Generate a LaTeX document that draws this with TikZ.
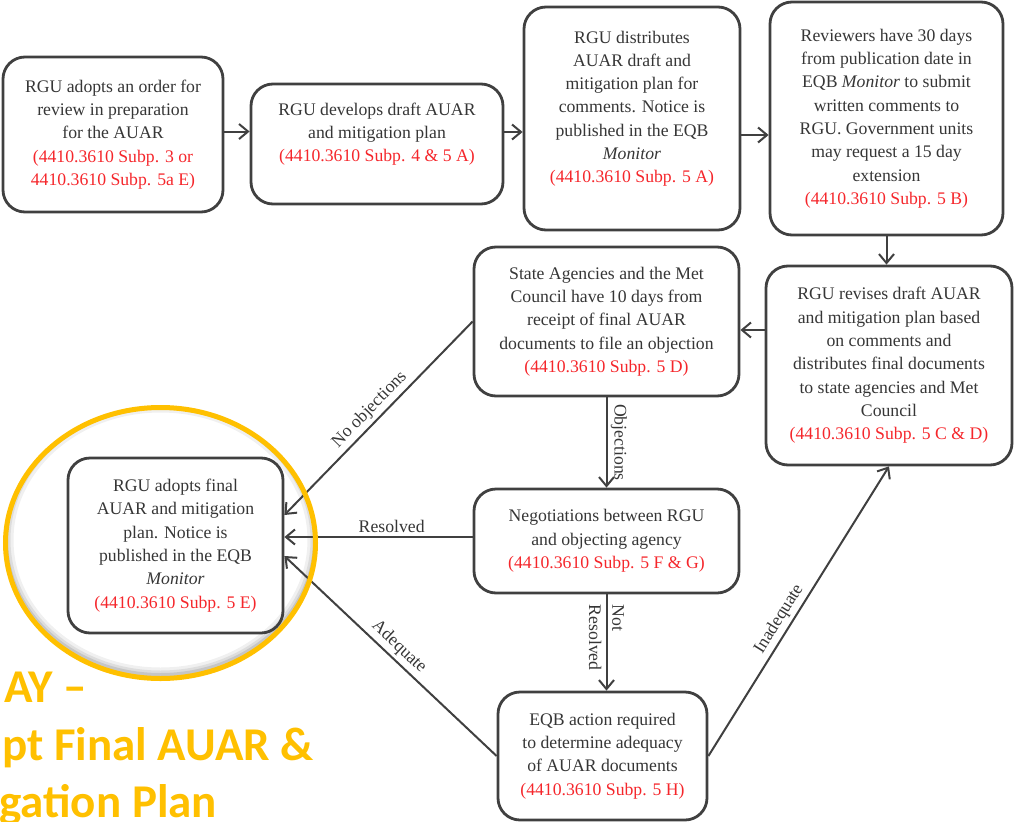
\documentclass[tikz,border=0pt]{standalone}
\usepackage{fontspec}
\setmainfont{Liberation Serif}
\newfontfamily\titlefont{Carlito}
\usetikzlibrary{arrows.meta}

\definecolor{boxgray}{HTML}{404040}
\definecolor{txtgray}{HTML}{363636}
\definecolor{citered}{HTML}{F5262B}
\definecolor{ringgold}{HTML}{FFC000}
\newcommand{\regref}[1]{{\color{citered}(4410.3610 Subp. #1)}}

\begin{document}
\begin{tikzpicture}[x=1pt,y=-1pt]
  \tikzset{box/.style = {draw=boxgray, line width=2.8pt, rounded corners=22pt, align=center, text=txtgray, font=\fontsize{17.7}{23.3}\selectfont}}
  \tikzset{edge/.style = {draw=boxgray, line width=2pt, -{Straight Barb[length=9pt,width=15pt]}}}
  \tikzset{lbl/.style = {text=txtgray, font=\fontsize{17.7}{23.3}\selectfont}}
  \tikzset{title/.style = {text=ringgold, inner sep=0pt, font=\titlefont\bfseries\fontsize{47}{57}\selectfont}}

\useasboundingbox (0,0) rectangle (1015,822);

% soft shadow inside the ring
\begin{scope}
  \clip (160.5,543) ellipse (153 and 133.5);
  \draw[black, opacity=0.06, line width=16pt] (160.5,540) ellipse (155 and 135.5);
  \draw[black, opacity=0.08, line width=10pt] (160.5,540) ellipse (155 and 135.5);
  \draw[black, opacity=0.10, line width=5pt] (160.5,540) ellipse (155 and 135.5);
\end{scope}

\node[box, minimum width=220pt, minimum height=155pt] (order) at (113,134.5)
  {RGU adopts an order for\\ review in preparation\\ for the AUAR\\
   {\color{citered}(4410.3610 Subp. 3 or}\\ {\color{citered}4410.3610 Subp. 5a E)}};
\node[box, minimum width=252pt, minimum height=120pt] (draft) at (377,144)
  {RGU develops draft AUAR\\ and mitigation plan\\ \regref{4 \& 5 A}\\ \mbox{}};
\node[box, minimum width=216pt, minimum height=223pt] (distrib) at (632,118.5)
  {RGU distributes\\ AUAR draft and\\ mitigation plan for\\ comments. Notice is\\ published in the EQB\\ \textit{Monitor}\\ \regref{5 A}\\ \mbox{}};
\node[box, minimum width=233pt, minimum height=233pt] (review) at (886.5,118.5)
  {Reviewers have 30 days\\ from publication date in\\ EQB \textit{Monitor} to submit\\ written comments to\\ RGU. Government units\\ may request a 15 day\\ extension\\ \regref{5 B}};
\node[box, minimum width=246pt, minimum height=199pt] (revise) at (889,365.5)
  {RGU revises draft AUAR\\ and mitigation plan based\\ on comments and\\ distributes final documents\\ to state agencies and Met\\ Council\\ \regref{5 C \& D}};
\node[box, minimum width=265pt, minimum height=149pt] (agency) at (606.5,321.5)
  {State Agencies and the Met\\ Council have 10 days from\\ receipt of final AUAR\\ documents to file an objection\\ \regref{5 D}};
\node[box, minimum width=265pt, minimum height=104pt] (negot) at (606.5,541)
  {Negotiations between RGU\\ and objecting agency\\ \regref{5 F \& G}};
\node[box, minimum width=209pt, minimum height=128pt] (eqb) at (602.5,756)
  {EQB action required\\ to determine adequacy\\ of AUAR documents\\ \regref{5 H}};
\node[box, minimum width=215pt, minimum height=175pt] (adopt) at (175.5,545.5)
  {RGU adopts final\\ AUAR and mitigation\\ plan. Notice is\\ published in the EQB\\ \textit{Monitor}\\ \regref{5 E}};

% main line
\draw[edge] ([yshift=3pt]order.east) -- ([yshift=3pt]order.east -| draft.west);
\draw[edge] ([yshift=12pt]draft.east) -- ([yshift=12pt]draft.east -| distrib.west);
\draw[edge] ([yshift=-16.5pt]distrib.east) -- ([yshift=-16.5pt]distrib.east -| review.west);
\draw[edge] (review.south) -- (review.south |- revise.north);
\draw[edge] ([yshift=35.5pt]revise.west) -- ([yshift=35.5pt]revise.west -| agency.east);

% branches
\draw[edge] (agency.west) -- node[lbl, sloped, above] {No objections} ([yshift=30.5pt]adopt.east);
\draw[edge] (agency.south) -- node[lbl, sloped, above] {Objections} (negot.north);
\draw[edge] ([yshift=4pt]negot.west) -- node[lbl, above, pos=0.43] {Resolved} ([yshift=4pt]negot.west -| adopt.east);
\draw[edge] (negot.south) -- node[lbl, sloped, align=left, pos=0.45] {Not\\ Resolved} (negot.south |- eqb.north);
\draw[edge] (eqb.west) -- node[lbl, sloped, above] {Adequate} ([yshift=-10.5pt]adopt.east);
\draw[edge] (eqb.east) -- node[lbl, sloped, above, pos=0.45] {Inadequate} (revise.south);

\draw[ringgold, line width=5pt] (160.5,543) ellipse (155 and 135.5);

\node[title, anchor=base west] (ttla) at (4,702) {AY –};
\node[title, anchor=base west] (ttlb) at (2,760) {pt Final AUAR \&};
\node[title, anchor=base west] (ttlc) at (-1,817) {gation Plan};

\end{tikzpicture}
\end{document}
